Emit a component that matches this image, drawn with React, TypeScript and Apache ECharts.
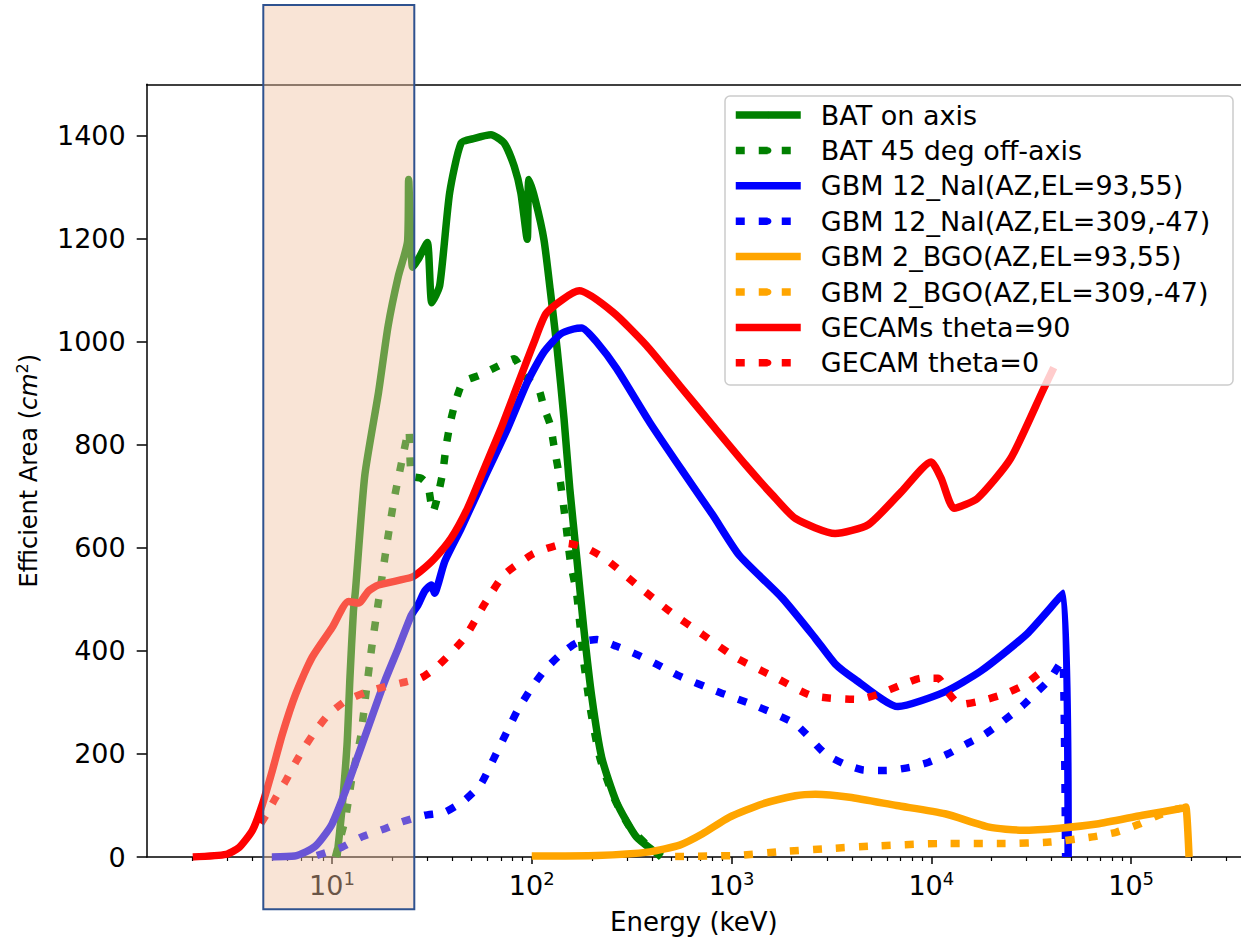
import React, { useEffect, useRef } from 'react';
import * as echarts from 'echarts';

// ---------- data (energy in keV, effective area in cm^2) ----------
const batOnE = [10.6, 11.2, 11.9, 12.3, 12.8, 13.1, 14.6, 17.1, 19.1, 21.5, 23.9, 24.2, 25.3, 27.0, 30.0, 31.6, 34.6, 38.8, 44.3, 51.7, 62.5, 72.7, 81.7, 88.2, 94.9, 96.7, 104, 115, 123.6, 134, 145, 155, 168, 182, 200, 224, 266, 334, 420, 445];
const batOnV = [1, 90, 219, 348, 477, 516, 741, 902, 1031, 1128, 1195, 1315, 1145, 1160, 1193, 1076, 1109, 1289, 1386, 1395, 1402, 1386, 1341, 1289, 1199, 1315, 1276, 1199, 1102, 986, 851, 715, 580, 445, 309, 193, 106, 39, 8, 0];

const bat45E = [10.4, 11.7, 12.6, 13.9, 14.7, 15.8, 17.1, 18.7, 20.5, 22.5, 23.8, 24.3, 25.0, 28.0, 30.2, 32.0, 33.9, 35.9, 37.3, 39.5, 41.7, 45.3, 54.6, 66.2, 81.7, 91.5, 108, 115, 124, 129, 139, 147, 156, 168, 181, 196, 219, 257, 309, 389, 450];
const bat45V = [0, 77, 155, 232, 309, 406, 497, 600, 696, 773, 818, 828, 740, 735, 722, 670, 702, 748, 799, 851, 886, 922, 935, 951, 967, 935, 909, 873, 838, 799, 728, 657, 574, 509, 387, 290, 193, 116, 58, 19, 3];

const nai1E = [5.0, 6.5, 7.4, 8.2, 9.0, 10, 11.7, 13.6, 15.8, 18.4, 21.5, 25, 27, 29.1, 31.4, 32.7, 34.0, 36.7, 44.3, 57.8, 75.5, 95, 115, 139, 162, 178, 212, 266, 389, 571, 805, 1091, 1791, 2620, 3300, 4150, 6810, 11600, 17700, 30100, 45900, 48400];
const nai1V = [0, 2, 10, 20, 38, 64, 129, 200, 271, 342, 406, 470, 490, 516, 528, 512, 530, 574, 638, 735, 831, 922, 980, 1015, 1025, 1027, 999, 948, 844, 748, 664, 586, 503, 425, 375, 345, 292, 320, 361, 433, 512, 0];

const nai2E = [8.4, 11.2, 14.1, 18.4, 22.3, 29.1, 36.7, 46, 55.7, 64.9, 75.5, 84.7, 100, 115, 139, 168, 212, 266, 336, 423, 550, 839, 1330, 2090, 2950, 3690, 4560, 5960, 7800, 9700, 12100, 14900, 18500, 22900, 28500, 33500, 39200, 43800, 45600, 47000];
const nai2V = [3, 19, 39, 55, 68, 81, 87, 110, 142, 193, 245, 284, 329, 361, 393, 416, 422, 409, 393, 374, 351, 322, 293, 258, 200, 180, 169, 168, 174, 184, 200, 219, 238, 264, 293, 319, 345, 374, 380, 0];

const bgo1E = [100, 212, 389, 550, 716, 973, 1426, 2090, 2630, 3900, 6700, 11700, 19500, 28500, 43800, 67400, 114000, 183000, 188000, 195000];
const bgo1V = [2, 3, 10, 23, 45, 77, 103, 119, 122, 116, 100, 84, 58, 52, 56, 64, 81, 95, 97, 0];

const bgo2E = [522, 1060, 1720, 2950, 4980, 11000, 22900, 39200, 64100, 84000, 110000, 137000, 169000, 178000];
const bgo2V = [1, 3, 10, 16, 21, 26, 26, 29, 39, 48, 64, 81, 93, 95];

const gecam90E = [2.01, 2.95, 3.44, 4.0, 4.49, 5.03, 5.64, 6.58, 7.94, 10, 12.1, 13.6, 15.2, 17.1, 25, 28, 32.7, 39.5, 47.7, 57.8, 70, 84.7, 102.6, 119, 173, 256, 375, 550, 804, 1178, 1600, 2090, 3300, 4830, 7080, 9970, 11200, 13000, 17000, 24900, 36500, 41000];
const gecam90V = [0, 5, 19, 52, 103, 168, 238, 316, 387, 445, 496, 493, 516, 528, 543, 556, 580, 619, 677, 754, 831, 915, 999, 1057, 1099, 1057, 993, 915, 838, 761, 703, 657, 628, 645, 709, 767, 735, 677, 696, 773, 909, 950];

const gecam0E = [4.4, 4.67, 5.24, 5.87, 6.58, 7.37, 8.27, 9.63, 11.7, 14.6, 17.7, 22.3, 28, 33.9, 46, 57.8, 72.7, 100, 119, 150, 189, 237, 336, 490, 716, 1050, 1668, 2530, 4300, 5420, 7080, 8900, 10800, 12100, 13900, 17700, 23000, 29100, 35000, 36500];
const gecam0V = [65, 81, 116, 148, 184, 216, 245, 277, 303, 319, 329, 338, 348, 371, 425, 490, 548, 587, 599, 609, 599, 577, 528, 477, 432, 387, 348, 313, 306, 316, 334, 347, 347, 320, 296, 303, 316, 334, 358, 362];

const seriesNames = [
  'BAT on axis',
  'BAT 45 deg off-axis',
  'GBM 12_NaI(AZ,EL=93,55)',
  'GBM 12_NaI(AZ,EL=309,-47)',
  'GBM 2_BGO(AZ,EL=93,55)',
  'GBM 2_BGO(AZ,EL=309,-47)',
  'GECAMs theta=90',
  'GECAM theta=0',
];

// axis ranges / ticks
const xLogMin = 0.0726;
const xLogMax = 5.55;
const xMajorExponents = [1, 2, 3, 4, 5];
const xMinorMultipliers = [2, 3, 4, 5, 6, 7, 8, 9];
const xMinorDecades = [0, 1, 2, 3, 4, 5];
const yMax = 1500;
const yTicks = [0, 200, 400, 600, 800, 1000, 1200, 1400];

const FONT = 'DejaVu Sans';
const DOT: number[] = [9, 14];

const toPts = (E: number[], V: number[]) => E.map((e, i) => [Math.log10(e), V[i]]);

export default function App() {
  const ref = useRef<HTMLDivElement>(null);

  useEffect(() => {
    if (!ref.current) return;
    const chart = echarts.init(ref.current, undefined, { renderer: 'svg' });

    const minorTicks: number[] = [];
    xMinorDecades.forEach((d) =>
      xMinorMultipliers.forEach((m) => {
        const v = Math.log10(m) + d;
        if (v > xLogMin && v < xLogMax) minorTicks.push(v);
      })
    );

    const defs = [
      { E: batOnE, V: batOnV, color: '#008000', dotted: false },
      { E: bat45E, V: bat45V, color: '#008000', dotted: true },
      { E: nai1E, V: nai1V, color: '#0000ff', dotted: false },
      { E: nai2E, V: nai2V, color: '#0000ff', dotted: true },
      { E: bgo1E, V: bgo1V, color: '#ffa500', dotted: false },
      { E: bgo2E, V: bgo2V, color: '#ffa500', dotted: true },
      { E: gecam90E, V: gecam90V, color: '#ff0000', dotted: false },
      { E: gecam0E, V: gecam0V, color: '#ff0000', dotted: true },
    ];

    const plotLeft = 146.7;
    const plotTop = 84.3;
    const plotW = 1102.3;
    const plotH = 775.7;

    chart.setOption({
      animation: false,
      textStyle: { fontFamily: FONT },
      grid: { left: plotLeft, top: plotTop, width: plotW, height: plotH, containLabel: false },
      xAxis: [
        {
          type: 'value',
          min: xLogMin,
          max: xLogMax,
          position: 'bottom',
          name: 'Energy (keV)',
          nameLocation: 'middle',
          nameGap: 52,
          nameTextStyle: { fontFamily: FONT, fontSize: 26, color: '#000' },
          axisLine: { show: true, onZero: false, lineStyle: { color: '#000', width: 1.5 } },
          axisTick: { show: true, length: 7, customValues: xMajorExponents, lineStyle: { color: '#000', width: 1.5 } },
          axisLabel: {
            show: true,
            customValues: xMajorExponents,
            margin: 12,
            formatter: (v: number) => `{b|10}{s|${Math.round(v)}}`,
            rich: {
              b: { fontFamily: FONT, fontSize: 27, color: '#000', lineHeight: 30, verticalAlign: 'bottom' },
              s: { fontFamily: FONT, fontSize: 18, color: '#000', lineHeight: 30, verticalAlign: 'top' },
            },
          },
          splitLine: { show: false },
        },
        {
          type: 'value',
          min: xLogMin,
          max: xLogMax,
          position: 'top',
          axisLine: { show: true, onZero: false, lineStyle: { color: '#000', width: 1.5 } },
          axisTick: { show: false },
          axisLabel: { show: false },
          splitLine: { show: false },
        },
        {
          type: 'value',
          min: xLogMin,
          max: xLogMax,
          position: 'bottom',
          axisLine: { show: false, onZero: false },
          axisTick: { show: true, length: 4, customValues: minorTicks, lineStyle: { color: '#000', width: 1.2 } },
          axisLabel: { show: false },
          splitLine: { show: false },
        },
      ],
      yAxis: {
        type: 'value',
        min: 0,
        max: yMax,
        name: 'Efficient Area ({i|cm}{s|2})',
        nameLocation: 'middle',
        nameRotate: 90,
        nameGap: 104,
        nameTextStyle: {
          fontFamily: FONT,
          fontSize: 24,
          color: '#000',
          rich: {
            i: { fontFamily: FONT, fontSize: 24, fontStyle: 'italic', color: '#000' },
            s: { fontFamily: FONT, fontSize: 16, color: '#000', verticalAlign: 'top', padding: [0, 0, 12, 0] },
          },
        },
        axisLine: { show: true, lineStyle: { color: '#000', width: 1.5 } },
        axisTick: { show: true, length: 10, customValues: yTicks, lineStyle: { color: '#000', width: 1.5 } },
        axisLabel: {
          show: true,
          customValues: yTicks,
          margin: 21,
          fontFamily: FONT,
          fontSize: 27,
          color: '#000',
          formatter: (v: number) => String(Math.round(v)),
        },
        splitLine: { show: false },
      },
      legend: {
        orient: 'vertical',
        left: 732,
        top: 97.3,
        padding: 0,
        itemGap: 0,
        itemWidth: 65,
        itemHeight: 8,
        selectedMode: false,
        z: 6,
        data: seriesNames,
        lineStyle: { width: 7.5 },
        textStyle: { fontFamily: FONT, fontSize: 27, color: '#000', lineHeight: 35.4, padding: [0, 0, 0, 15] },
      },
      series: defs.map((d, i) => ({
        type: 'line',
        name: seriesNames[i],
        data: toPts(d.E, d.V),
        xAxisIndex: 0,
        yAxisIndex: 0,
        showSymbol: false,
        symbol: 'none',
        smooth: 0.2,
        silent: true,
        clip: true,
        z: 2,
        itemStyle: { color: d.color },
        lineStyle: { color: d.color, width: 7.5, type: d.dotted ? DOT : 'solid', cap: 'butt', join: 'round' },
      })),
      graphic: [
        {
          type: 'rect',
          z: 3,
          shape: { x: 725, y: 96, width: 508, height: 289, r: 5 },
          style: { fill: 'rgba(255,255,255,0.8)', stroke: '#cccccc', lineWidth: 1.5 },
          silent: true,
        },
        {
          type: 'rect',
          z: 100,
          shape: { x: 263.3, y: 5, width: 151, height: 904.3 },
          style: { fill: 'rgba(241,194,162,0.44)', stroke: '#2f528f', lineWidth: 2 },
          silent: true,
        },
      ],
    });

    return () => chart.dispose();
  }, []);

  return <div ref={ref} style={{ position: 'absolute', left: 0, top: 0, width: 1241, height: 940 }} />;
}
